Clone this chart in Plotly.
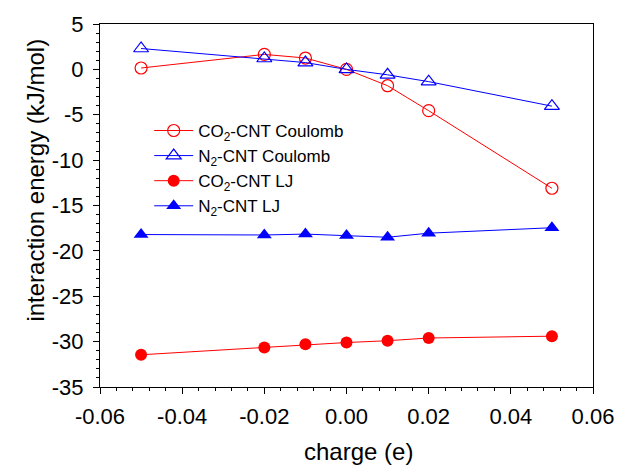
import plotly.graph_objects as go

charge = [-0.05, -0.02, -0.01, 0.0, 0.01, 0.02, 0.05]
co2_coulomb = [0.15, 1.65, 1.25, 0.0, -1.8, -4.55, -13.1]
n2_coulomb = [2.3, 1.2, 0.75, 0.0, -0.6, -1.35, -4.05]
co2_lj = [-31.45, -30.65, -30.3, -30.1, -29.9, -29.6, -29.4]
n2_lj = [-18.2, -18.25, -18.15, -18.3, -18.5, -18.05, -17.45]

x_ticks = [-0.06, -0.04, -0.02, 0.0, 0.02, 0.04, 0.06]
x_ticktext = ["-0.06", "-0.04", "-0.02", "0.00", "0.02", "0.04", "0.06"]
y_ticks = [5, 0, -5, -10, -15, -20, -25, -30, -35]
y_ticktext = ["5", "0", "-5", "-10", "-15", "-20", "-25", "-30", "-35"]

names = ["CO<sub>2</sub>-CNT Coulomb", "N<sub>2</sub>-CNT Coulomb",
         "CO<sub>2</sub>-CNT LJ", "N<sub>2</sub>-CNT LJ"]
x_title = "charge (e)"
y_title = "interaction energy (kJ/mol)"

RED = "#ff0000"
BLUE = "#0000ff"

fig = go.Figure()
fig.add_trace(go.Scatter(x=charge, y=co2_coulomb, name=names[0], legendgroup="a", mode="lines+markers",
                         line=dict(color=RED, width=1),
                         marker=dict(symbol="circle-open", size=12, color=RED, line=dict(width=1.2))))
fig.add_trace(go.Scatter(x=charge, y=n2_coulomb, name=names[1], legendgroup="b", mode="lines+markers",
                         line=dict(color=BLUE, width=1),
                         marker=dict(symbol="triangle-up-open", size=13, color=BLUE, line=dict(width=1.2))))
fig.add_trace(go.Scatter(x=charge, y=co2_lj, name=names[2], legendgroup="c", mode="lines+markers",
                         line=dict(color=RED, width=1),
                         marker=dict(symbol="circle", size=12, color=RED)))
fig.add_trace(go.Scatter(x=charge, y=n2_lj, name=names[3], legendgroup="d", mode="lines+markers",
                         line=dict(color=BLUE, width=1),
                         marker=dict(symbol="triangle-up", size=13, color=BLUE)))

font = "Liberation Sans, Arial, sans-serif"
fig.update_layout(
    width=626, height=467,
    margin=dict(l=100, r=25, t=23, b=80),
    paper_bgcolor="white", plot_bgcolor="white",
    font=dict(family=font, color="black", size=22),
    showlegend=True,
    legend=dict(x=0.0998, y=0.755, xanchor="left", yanchor="top",
                font=dict(size=17, family=font), bgcolor="rgba(0,0,0,0)",
                tracegroupgap=0, itemwidth=39),
    annotations=[
        dict(text=y_title, xref="paper", yref="paper", x=-0.1297, y=0.5687,
             xanchor="center", yanchor="middle", textangle=-90, showarrow=False,
             font=dict(size=24, family=font)),
        dict(text=x_title, xref="paper", yref="paper", x=0.525, y=-0.1786,
             xanchor="center", yanchor="middle", showarrow=False,
             font=dict(size=24, family=font)),
    ],
)
fig.update_xaxes(range=[-0.06, 0.06], tickvals=x_ticks, ticktext=x_ticktext,
                 showline=True, linecolor="black", linewidth=1, mirror=True,
                 ticks="outside", ticklen=6, tickcolor="black", ticklabelstandoff=4,
                 minor=dict(ticks="outside", dtick=0.004, ticklen=3, tickcolor="black"),
                 showgrid=False, zeroline=False)
fig.update_yaxes(range=[-35, 5], tickvals=y_ticks, ticktext=y_ticktext,
                 showline=True, linecolor="black", linewidth=1, mirror=True,
                 ticks="outside", ticklen=6, tickcolor="black", ticklabelstandoff=5,
                 minor=dict(ticks="outside", dtick=1, ticklen=3, tickcolor="black"),
                 showgrid=False, zeroline=False)

fig.write_html("out.html")
